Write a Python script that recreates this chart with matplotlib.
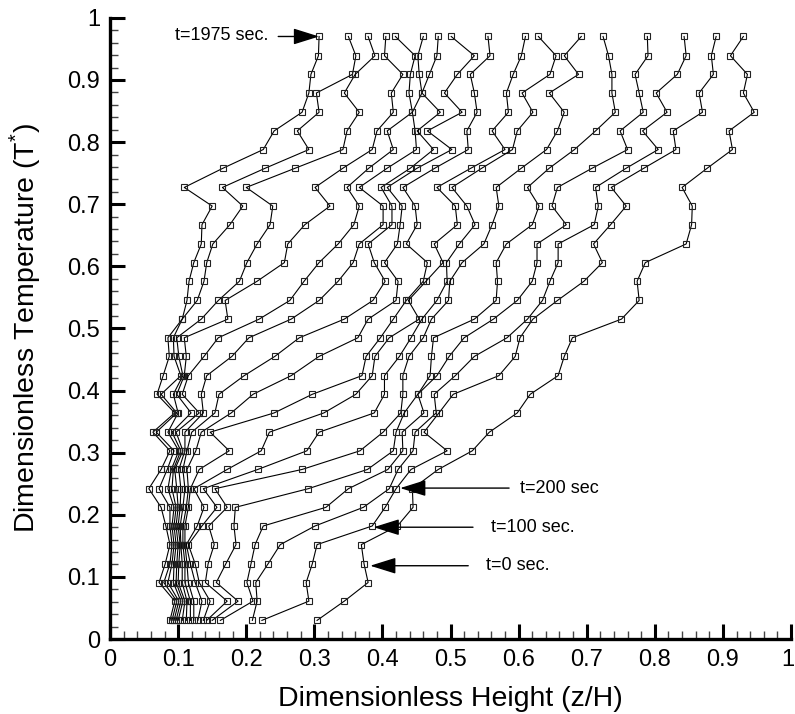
import numpy as np
import matplotlib.pyplot as plt
import matplotlib.transforms as mtransforms
from matplotlib.ticker import MultipleLocator, FuncFormatter

plt.rcParams['font.family'] = ['Liberation Sans', 'DejaVu Sans']
plt.rcParams['mathtext.fontset'] = 'custom'
plt.rcParams['mathtext.rm'] = 'Liberation Sans'

# measurement levels (y) and the T* readings at each level, one value per profile
heights = [0.030, 0.061, 0.091, 0.121, 0.152, 0.182, 0.212, 0.242, 0.273, 0.303,
           0.333, 0.364, 0.394, 0.424, 0.455, 0.485, 0.515, 0.545, 0.576, 0.606,
           0.636, 0.667, 0.697, 0.727, 0.758, 0.788, 0.818, 0.848, 0.879, 0.909,
           0.939, 0.970]

readings = [
    [0.088, 0.091, 0.094, 0.097, 0.100, 0.106, 0.112, 0.118, 0.123, 0.129, 0.137, 0.142, 0.150, 0.162, 0.209, 0.223, 0.304],
    [0.095, 0.098, 0.101, 0.104, 0.107, 0.110, 0.113, 0.118, 0.123, 0.135, 0.147, 0.172, 0.188, 0.210, 0.216, 0.292, 0.344],
    [0.072, 0.079, 0.085, 0.093, 0.097, 0.100, 0.106, 0.110, 0.115, 0.125, 0.131, 0.140, 0.156, 0.201, 0.214, 0.288, 0.379],
    [0.081, 0.088, 0.091, 0.094, 0.098, 0.101, 0.106, 0.110, 0.113, 0.118, 0.125, 0.144, 0.170, 0.207, 0.232, 0.297, 0.373],
    [0.088, 0.091, 0.094, 0.097, 0.100, 0.103, 0.104, 0.107, 0.110, 0.112, 0.115, 0.153, 0.185, 0.213, 0.250, 0.304, 0.369],
    [0.082, 0.088, 0.091, 0.094, 0.097, 0.100, 0.103, 0.107, 0.110, 0.128, 0.135, 0.145, 0.182, 0.225, 0.301, 0.385, 0.422],
    [0.075, 0.088, 0.094, 0.097, 0.100, 0.103, 0.107, 0.112, 0.115, 0.138, 0.157, 0.172, 0.184, 0.317, 0.372, 0.404, 0.445],
    [0.057, 0.072, 0.085, 0.091, 0.098, 0.104, 0.110, 0.115, 0.118, 0.123, 0.137, 0.154, 0.291, 0.350, 0.410, 0.420, 0.444],
    [0.075, 0.084, 0.090, 0.093, 0.095, 0.101, 0.107, 0.113, 0.131, 0.172, 0.217, 0.282, 0.378, 0.408, 0.423, 0.442, 0.482],
    [0.088, 0.094, 0.101, 0.104, 0.107, 0.110, 0.113, 0.126, 0.175, 0.222, 0.289, 0.367, 0.416, 0.430, 0.445, 0.495, 0.532],
    [0.063, 0.068, 0.085, 0.091, 0.097, 0.110, 0.120, 0.134, 0.147, 0.234, 0.307, 0.401, 0.420, 0.429, 0.448, 0.461, 0.557],
    [0.095, 0.098, 0.100, 0.119, 0.131, 0.137, 0.154, 0.178, 0.241, 0.314, 0.388, 0.427, 0.432, 0.461, 0.479, 0.483, 0.598],
    [0.069, 0.075, 0.093, 0.098, 0.106, 0.134, 0.160, 0.210, 0.297, 0.361, 0.403, 0.430, 0.452, 0.452, 0.476, 0.504, 0.617],
    [0.078, 0.104, 0.107, 0.109, 0.115, 0.142, 0.197, 0.266, 0.370, 0.385, 0.403, 0.430, 0.470, 0.480, 0.507, 0.571, 0.658],
    [0.087, 0.094, 0.101, 0.112, 0.138, 0.179, 0.242, 0.307, 0.376, 0.389, 0.425, 0.439, 0.472, 0.498, 0.535, 0.595, 0.667],
    [0.085, 0.093, 0.098, 0.109, 0.159, 0.204, 0.278, 0.364, 0.397, 0.410, 0.442, 0.460, 0.475, 0.520, 0.583, 0.602, 0.679],
    [0.106, 0.106, 0.134, 0.173, 0.219, 0.266, 0.344, 0.379, 0.416, 0.454, 0.458, 0.472, 0.535, 0.563, 0.613, 0.621, 0.751],
    [0.113, 0.128, 0.159, 0.169, 0.264, 0.307, 0.386, 0.420, 0.435, 0.438, 0.480, 0.497, 0.567, 0.598, 0.635, 0.657, 0.777],
    [0.116, 0.138, 0.190, 0.216, 0.285, 0.335, 0.404, 0.423, 0.460, 0.464, 0.495, 0.499, 0.569, 0.620, 0.646, 0.696, 0.774],
    [0.123, 0.142, 0.201, 0.256, 0.307, 0.357, 0.388, 0.403, 0.466, 0.489, 0.494, 0.517, 0.567, 0.627, 0.658, 0.723, 0.786],
    [0.134, 0.151, 0.216, 0.261, 0.335, 0.366, 0.379, 0.422, 0.435, 0.476, 0.513, 0.549, 0.582, 0.627, 0.658, 0.710, 0.846],
    [0.135, 0.176, 0.235, 0.286, 0.358, 0.401, 0.414, 0.426, 0.451, 0.510, 0.536, 0.561, 0.620, 0.670, 0.711, 0.735, 0.854],
    [0.150, 0.195, 0.239, 0.323, 0.366, 0.401, 0.414, 0.429, 0.448, 0.507, 0.524, 0.571, 0.630, 0.649, 0.717, 0.758, 0.855],
    [0.109, 0.165, 0.200, 0.301, 0.348, 0.366, 0.398, 0.407, 0.430, 0.480, 0.502, 0.567, 0.613, 0.657, 0.713, 0.736, 0.840],
    [0.166, 0.228, 0.272, 0.342, 0.380, 0.407, 0.441, 0.451, 0.477, 0.530, 0.546, 0.604, 0.645, 0.708, 0.758, 0.784, 0.877],
    [0.225, 0.292, 0.342, 0.385, 0.416, 0.450, 0.475, 0.502, 0.526, 0.580, 0.591, 0.641, 0.682, 0.760, 0.805, 0.831, 0.914],
    [0.241, 0.275, 0.348, 0.392, 0.407, 0.448, 0.451, 0.466, 0.524, 0.561, 0.598, 0.657, 0.713, 0.749, 0.782, 0.827, 0.909],
    [0.282, 0.307, 0.366, 0.416, 0.444, 0.444, 0.485, 0.517, 0.539, 0.585, 0.621, 0.667, 0.742, 0.783, 0.818, 0.870, 0.946],
    [0.292, 0.303, 0.344, 0.413, 0.439, 0.458, 0.458, 0.491, 0.535, 0.582, 0.605, 0.645, 0.737, 0.777, 0.802, 0.865, 0.930],
    [0.295, 0.356, 0.360, 0.430, 0.441, 0.454, 0.469, 0.510, 0.529, 0.592, 0.646, 0.688, 0.737, 0.771, 0.833, 0.886, 0.936],
    [0.306, 0.361, 0.389, 0.403, 0.448, 0.452, 0.480, 0.535, 0.558, 0.604, 0.655, 0.667, 0.732, 0.790, 0.846, 0.883, 0.911],
    [0.307, 0.350, 0.379, 0.405, 0.419, 0.460, 0.482, 0.501, 0.555, 0.610, 0.629, 0.692, 0.724, 0.789, 0.843, 0.890, 0.930],
]

# arrow labels: text, arrow tip, arrow tail, text anchor
labels = ['t=1975 sec.', 't=200 sec', 't=100 sec.', 't=0 sec.']
tips = [(0.307, 0.970), (0.426, 0.243), (0.387, 0.180), (0.382, 0.118)]
tails = [(0.247, 0.970), (0.586, 0.243), (0.533, 0.180), (0.526, 0.118)]
text_pos = [(0.232, 0.972), (0.602, 0.243), (0.560, 0.180), (0.552, 0.118)]
text_ha = ['right', 'left', 'left', 'left']

fig = plt.figure(figsize=(7.95, 7.14), dpi=100)
ax = fig.add_axes([0.1384, 0.105, 0.8566, 0.870])

profiles = np.array(readings).T
for prof in profiles:
    ax.plot(prof, heights, '-', color='black', lw=0.8,
            marker='s', ms=5, mfc='none', mec='#222222', mew=0.8)

for lab, tip, tail, tp, ha in zip(labels, tips, tails, text_pos, text_ha):
    ax.annotate('', xy=tip, xytext=tail,
                arrowprops=dict(arrowstyle='-|>,head_length=0.8,head_width=0.25',
                                color='black', lw=1, mutation_scale=20,
                                shrinkA=0, shrinkB=0))
    ax.text(tp[0], tp[1], lab, ha=ha, va='center', fontsize=13)

ax.set_xlim(0, 1)
ax.set_ylim(0, 1)
for s in ['top', 'right']:
    ax.spines[s].set_visible(False)
for s in ['left', 'bottom']:
    ax.spines[s].set_linewidth(2.4)

yfmt = FuncFormatter(lambda v, p: '%g' % round(v, 2))
# the "1" at the right end of the x axis is drawn separately so it stays on the canvas
xfmt = FuncFormatter(lambda v, p: '' if v > 0.99 else '%g' % round(v, 2))
for axis, fmt in [(ax.xaxis, xfmt), (ax.yaxis, yfmt)]:
    axis.set_major_locator(MultipleLocator(0.1))
    axis.set_minor_locator(MultipleLocator(0.02))
    axis.set_major_formatter(fmt)
ax.tick_params(which='major', direction='in', length=11, width=2.2, labelsize=17, pad=7)
ax.tick_params(which='minor', direction='in', length=6, width=1, color='#444444')

end_shift = mtransforms.ScaledTranslation(3 / 100, -7 / 72, fig.dpi_scale_trans)
ax.text(1.0, 0.0, '1', fontsize=17, ha='right', va='top',
        transform=ax.get_xaxis_transform() + end_shift)

ax.set_xlabel('Dimensionless Height (z/H)', fontsize=20.5)
ax.set_ylabel('Dimensionless Temperature (T$^{*}$)', fontsize=20.5)
ax.xaxis.set_label_coords(0.5, -0.075)
ax.yaxis.set_label_coords(-0.098, 0.5)

fig.savefig('out.png', dpi=100)
